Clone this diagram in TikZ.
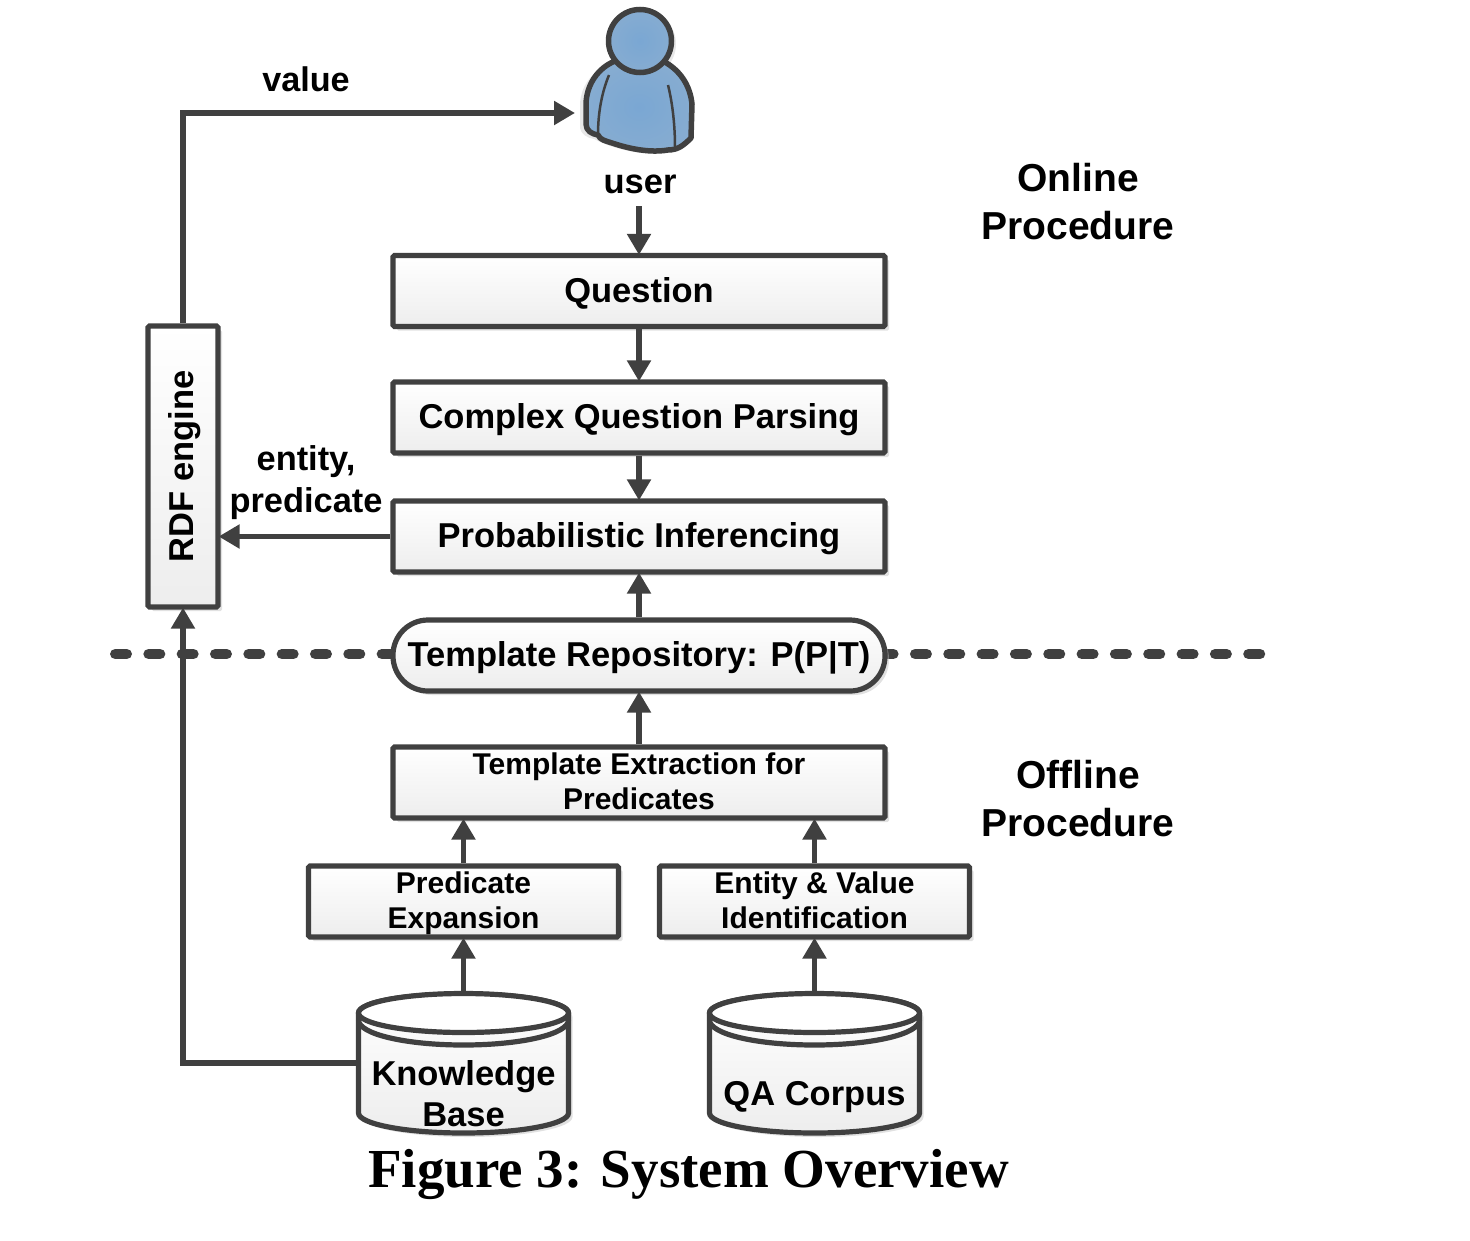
\documentclass[tikz,border=0pt]{standalone}
\usepackage{fontspec}
\usepackage{graphicx}
\setmainfont{Liberation Sans}
\newfontfamily\capfont{Liberation Serif}
\usetikzlibrary{arrows.meta,shadows,calc}
\definecolor{ink}{HTML}{404040}
\definecolor{shadowgray}{HTML}{BDBDBD}
\definecolor{userblue}{HTML}{7AA7D3}
\definecolor{useredge}{HTML}{86ACD1}
\tikzset{
  x=1pt,y=-1pt,
  softshadow/.style={drop shadow={shadow xshift=4pt,shadow yshift=-4pt,fill=shadowgray,opacity=.45}},
  stagebox/.style={draw=ink,line width=5.2pt,rounded corners=1.5pt,top color=white,bottom color=black!7,
    softshadow,minimum width=492pt,minimum height=71pt,inner sep=0pt,align=center,
    font=\fontsize{34.5}{41}\selectfont\bfseries},
  singlebox/.style={stagebox,text height=29pt,text depth=7pt},
  smallbox/.style={stagebox,font=\fontsize{30}{35}\selectfont\bfseries},
  sidebox/.style={smallbox,minimum width=310pt},
  pillbox/.style={singlebox,rounded corners=35pt},
  flow/.style={draw=ink,line width=5.2pt,shorten >=-2pt,-{Triangle[length=21pt,width=23pt]}},
  plainlabel/.style={inner sep=0pt,align=center,font=\fontsize{34.5}{41.5}\selectfont\bfseries},
  titlelabel/.style={inner sep=0pt,align=center,font=\fontsize{39}{47.5}\selectfont\bfseries},
  cylbody/.style={draw=ink,line width=5.2pt,top color=white,bottom color=black!7,softshadow},
}
\newcommand{\dbcyl}[1]{%
  \begin{scope}[shift={(#1,0)}]
    \path[cylbody] (-105,1013) -- (-105,1113)
      .. controls (-105,1124) and (-58,1133) .. (0,1133)
      .. controls (58,1133) and (105,1124) .. (105,1113) -- (105,1013)
      .. controls (105,1002) and (58,994) .. (0,994)
      .. controls (-58,994) and (-105,1002) .. (-105,1013) -- cycle;
    \draw[ink,line width=5.2pt,fill=white] (0,1013) ellipse [x radius=105,y radius=19.5];
    \draw[ink,line width=5.2pt] (-105,1020)
      .. controls (-105,1034) and (-58,1045) .. (0,1045)
      .. controls (58,1045) and (105,1034) .. (105,1020);
  \end{scope}}
\begin{document}
\begin{tikzpicture}
\useasboundingbox (0,0) rectangle (1470,1240);
% coordinates
\coordinate (dashL) at (115.25,654);
\coordinate (dashR) at (1263,654);
\coordinate (userin) at (573,113);
\coordinate (userout) at (639,206);
\coordinate (kbout) at (358,1063);
% dashed divider
\draw[ink,line width=10.5pt,line cap=round,dash pattern=on 11.5pt off 21.83pt] (dashL) -- (dashR);
% user icon
\path[fill=shadowgray,opacity=.35] (642,44) circle (34);
\path[fill=shadowgray,opacity=.35] (608,66) .. controls (590,72) and (581,88) .. (580,103)
  -- (580,128) .. controls (581,134) and (587,138) .. (594,139)
  .. controls (615,150) and (645,156) .. (665,152) -- (672,150) -- (640,100) -- cycle;
\draw[ink,line width=5.5pt,inner color=userblue,outer color=useredge,line join=round]
  (615,61) .. controls (598,68) and (587,84) .. (586,103)
  -- (586,124) .. controls (586,131) and (592,134) .. (598,135)
  .. controls (600,140) and (606,141) .. (612,143)
  .. controls (630,149) and (650,153) .. (668,150)
  .. controls (678,150) and (684,145) .. (691,138)
  -- (692,104) .. controls (690,85) and (680,70) .. (663,61) -- cycle;
\draw[ink,line width=2.5pt] (609,75) .. controls (602,92) and (598,112) .. (598,135);
\draw[ink,line width=2.5pt] (668,85) .. controls (673,105) and (675,128) .. (675,147);
\draw[ink,line width=5.5pt,inner color=userblue,outer color=useredge] (640,41) circle (31.5);
% cylinders
\dbcyl{463.5}
\dbcyl{814.5}
% boxes
\node[singlebox] (question) at (639,291) {Question};
\node[singlebox] (parsing) at (639,417.5) {Complex Question Parsing};
\node[singlebox] (infer) at (639,536.5) {Probabilistic Inferencing};
\node[pillbox] (repo) at (639,655.5) {Template Repository: P(P|T)};
\node[smallbox] (extract) at (639,782.5) {Template Extraction for\\Predicates\rule[-2.4pt]{0pt}{2.4pt}};
\node[sidebox] (predexp) at (463.5,901.5) {\rule{0pt}{26pt}Predicate\\Expansion};
\node[sidebox] (entity) at (814.5,901.5) {Entity \& Value\\Identification\rule[-2.4pt]{0pt}{2.4pt}};
\node[stagebox,minimum width=70pt,minimum height=281pt] (rdf) at (183,466.5) {\hspace*{3pt}\rotatebox{90}{RDF engine}};
% cylinder labels
\node[plainlabel] (kb) at (463.5,1093.5) {Knowledge\\Base};
\node[plainlabel] (qa) at (814.5,1097.5) {QA Corpus};
% labels
\node[plainlabel] (userlabel) at (640,184.5) {user};
\node[plainlabel,font=\fontsize{34.2}{39}\selectfont\bfseries] (valuelabel) at (306,79.5) {value};
\node[plainlabel,font=\fontsize{34.4}{41.5}\selectfont\bfseries] (eplabel) at (306,482.5) {entity,\\predicate};
\node[titlelabel] (online) at (1078,201.5) {Online\\Procedure};
\node[titlelabel] (offline) at (1078,798.5) {Offline\\Procedure};
\node[inner sep=0pt,font=\fontsize{55}{60}\selectfont\capfont\bfseries] (caption) at (688.5,1174) {Figure 3: System Overview};
% connectors
\draw[flow] (userout) -- (question.north);
\draw[flow] (question.south) -- (parsing.north);
\draw[flow] (parsing.south) -- (infer.north);
\draw[flow] (repo.north) -- (infer.south);
\draw[flow] (extract.north) -- (repo.south);
\draw[flow] (predexp.north) -- (predexp.north |- extract.south);
\draw[flow] (entity.north) -- (entity.north |- extract.south);
\draw[flow] (predexp.south -| kb.north) ++(0,56) -- (predexp.south);
\draw[flow] (entity.south -| qa.north) ++(0,56) -- (entity.south);
\draw[flow] (infer.west) -- (infer.west -| rdf.east);
\draw[flow] (rdf.north) |- (userin);
\draw[flow] (kbout) -| (rdf.south);
\end{tikzpicture}
\end{document}
